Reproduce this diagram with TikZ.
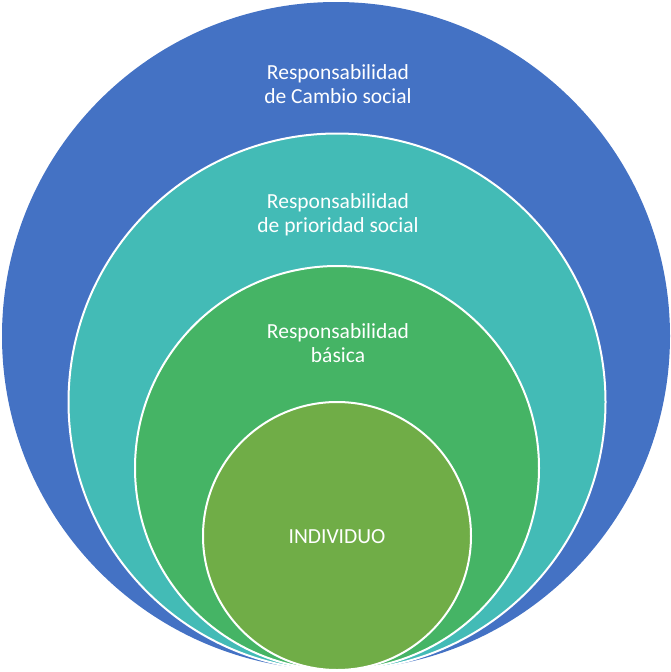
\documentclass[tikz,border=0pt]{standalone}
\usepackage{fontspec}
\setmainfont{Carlito}
\definecolor{cblue}{HTML}{4472C4}
\definecolor{cteal}{HTML}{43BBB6}
\definecolor{cgreen}{HTML}{45B465}
\definecolor{colive}{HTML}{70AD47}
\begin{document}
\begin{tikzpicture}[x=1pt,y=-1pt,
  ring/.style={draw=white,line width=2pt},
  lbl/.style={text=white,font=\fontsize{21.5}{24}\selectfont,align=center}]
\useasboundingbox (0,0) rectangle (671,672);
\fill[cblue] (336,336) circle (334);
\draw[ring,fill=cteal] (337,402) circle (268.5);
\draw[ring,fill=cgreen] (337,468) circle (202);
\draw[ring,fill=colive] (337,536) circle (134);
\node[lbl] (t1) at (338,84) {Responsabilidad\\de Cambio social};
\node[lbl] (t2) at (338,215) {Responsabilidad\\de prioridad social};
\node[lbl] (t3) at (338,343) {Responsabilidad\\básica};
\node[lbl] (t4) at (337,537) {INDIVIDUO};
\end{tikzpicture}
\end{document}
